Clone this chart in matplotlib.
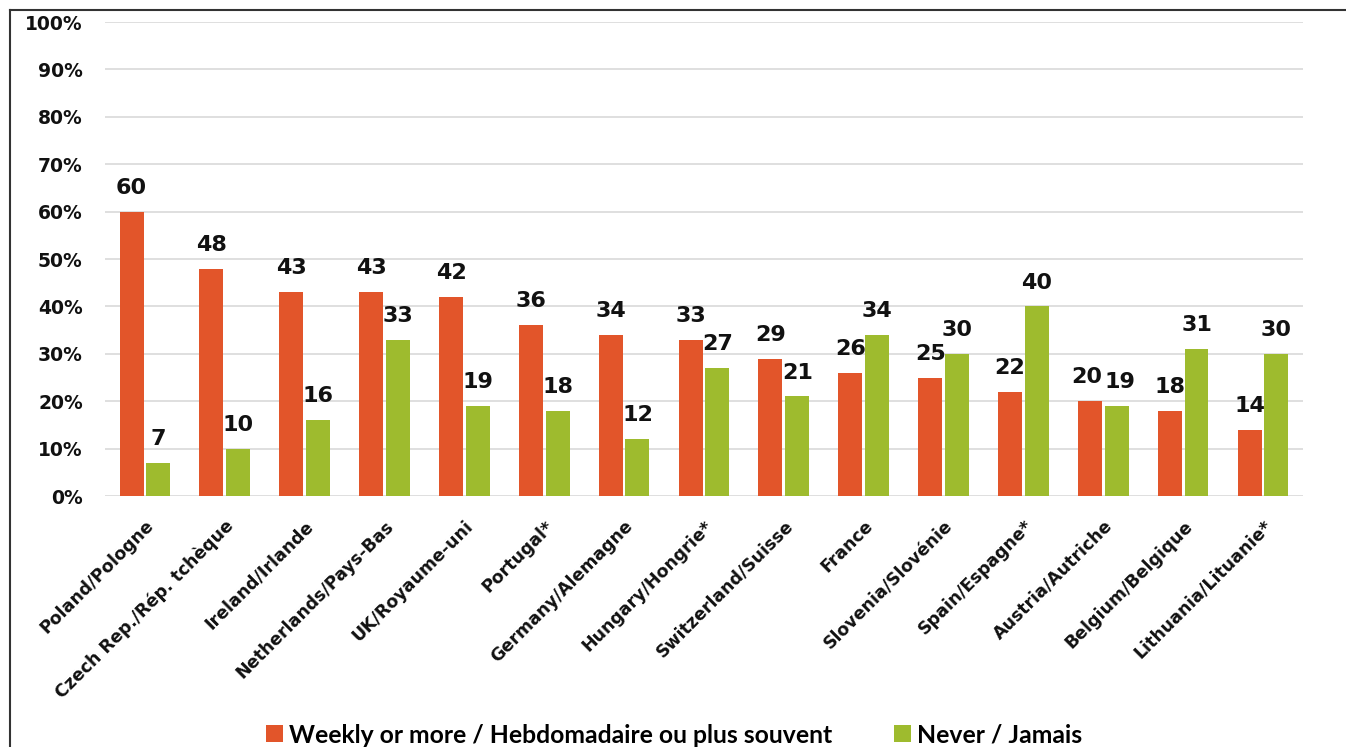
import matplotlib
matplotlib.use("Agg")
import matplotlib.pyplot as plt
import numpy as np
from matplotlib.lines import Line2D
from matplotlib.patches import Patch

countries = [
    "Poland/Pologne", "Czech Rep./Rép. tchèque", "Ireland/Irlande",
    "Netherlands/Pays-Bas", "UK/Royaume-uni", "Portugal*", "Germany/Alemagne",
    "Hungary/Hongrie*", "Switzerland/Suisse", "France", "Slovenia/Slovénie",
    "Spain/Espagne*", "Austria/Autriche", "Belgium/Belgique", "Lithuania/Lituanie*",
]
weekly = [60, 48, 43, 43, 42, 36, 34, 33, 29, 26, 25, 22, 20, 18, 14]
never = [7, 10, 16, 33, 19, 18, 12, 27, 21, 34, 30, 40, 19, 31, 30]
series_names = ["Weekly or more / Hebdomadaire ou plus souvent", "Never / Jamais"]
yticks = list(range(0, 101, 10))

ORANGE = "#E2552A"
GREEN = "#9EBB2E"

fig = plt.figure(figsize=(13.46, 7.47), dpi=100)
ax = fig.add_axes([0.078, 0.336, 0.890, 0.6345])

x = np.arange(len(countries))
w = 0.30
gap = 0.035
b1 = ax.bar(x - w / 2 - gap / 2, weekly, width=w, color=ORANGE, zorder=3)
b2 = ax.bar(x + w / 2 + gap / 2, never, width=w, color=GREEN, zorder=3)

# nudge paired labels apart when both bars have nearly the same height
close = [abs(a - b) < 3 for a, b in zip(weekly, never)]
for bars, vals, side in ((b1, weekly, -1), (b2, never, 1)):
    for bar, v, c in zip(bars, vals, close):
        dx = 2.5 * side if c else 0
        ax.annotate(f"{v}", (bar.get_x() + bar.get_width() / 2, v),
                    xytext=(dx, 10), textcoords="offset points",
                    ha="center", va="bottom", fontsize=16, fontweight="bold",
                    color="#111111", zorder=4)

ax.set_xlim(-0.5, len(countries) - 0.5)
ax.set_ylim(0, 100)
ax.set_yticks(yticks)
ax.set_yticklabels([f"{t}%" for t in yticks], fontsize=13.5, fontweight="bold",
                   color="#111111")
ax.yaxis.grid(True, color="#D9D9D9", linewidth=1.2, zorder=0)
ax.tick_params(axis="y", length=0, pad=16)
ax.tick_params(axis="x", length=0, pad=15)
ax.set_xticks(x)
ax.set_xticklabels(countries, rotation=45, ha="right", rotation_mode="anchor",
                   fontsize=12.5, fontweight="bold", color="#111111")
for s in ax.spines.values():
    s.set_visible(False)

handles = [Patch(facecolor=ORANGE), Patch(facecolor=GREEN)]
fig.legend(handles, series_names, loc="center", bbox_to_anchor=(0.501, 0.016),
           ncol=2, frameon=False, handlelength=0.68, handleheight=0.68,
           handletextpad=0.25, columnspacing=2.5,
           prop={"family": "Lato", "weight": "bold", "size": 17.8})

# frame lines along the top and left edges
fig.add_artist(Line2D([10 / 1346, 1.0], [1 - 10 / 747, 1 - 10 / 747],
                      transform=fig.transFigure, color="#333333", linewidth=1.5))
fig.add_artist(Line2D([10 / 1346, 10 / 1346], [0.0, 1 - 10 / 747],
                      transform=fig.transFigure, color="#333333", linewidth=1.5))

fig.savefig("out.png", dpi=100, facecolor="white")
